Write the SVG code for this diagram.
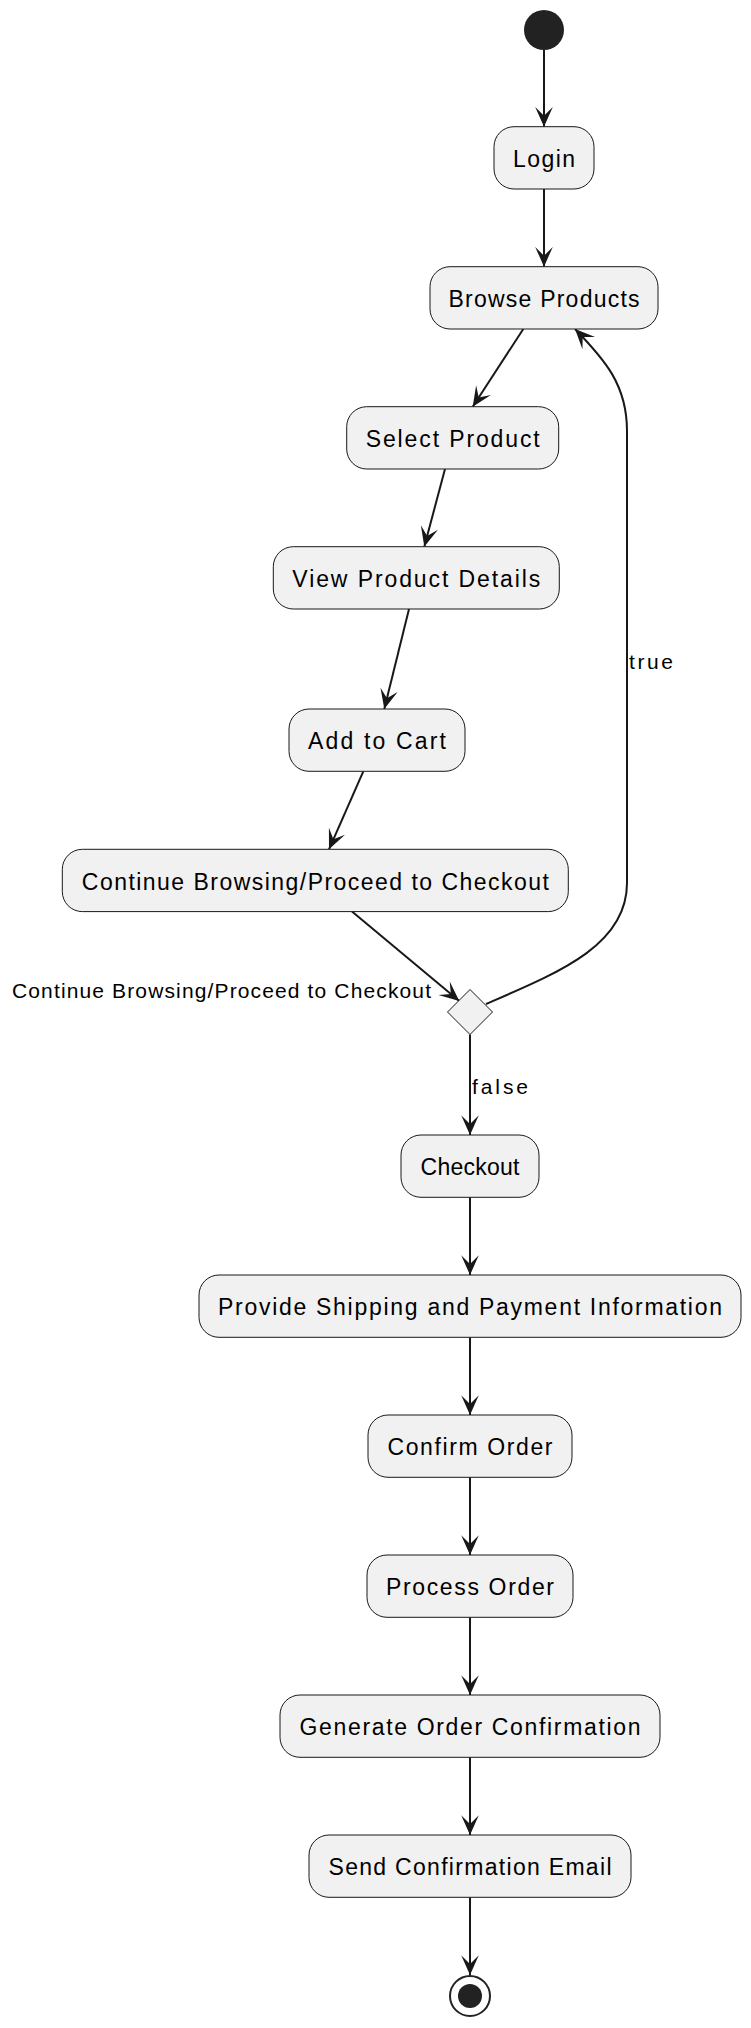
<svg xmlns="http://www.w3.org/2000/svg" width="751" height="2028" viewBox="0 0 751 2028">
<style>
.box{fill:#F1F1F1;stroke:#181818;stroke-width:1}
.t{font-family:"Liberation Sans",Arial,sans-serif;font-size:23px;fill:#000;text-anchor:middle}
.lbl{font-family:"Liberation Sans",Arial,sans-serif;font-size:21px;fill:#000}
.ln{fill:none;stroke:#181818;stroke-width:2;marker-end:url(#arr)}
</style>
<defs>
<marker id="arr" markerUnits="userSpaceOnUse" markerWidth="22" markerHeight="20" viewBox="-19 -9 20 18" refX="0" refY="0" orient="auto" overflow="visible">
<path d="M0,0 L-18,-8 L-10,0 L-18,8 Z" fill="#181818"/>
</marker>
</defs>
<rect width="751" height="2028" fill="#FFFFFF"/>
<g id="connectors">
<line class="ln" x1="544" y1="50" x2="544" y2="126.7"/>
<line class="ln" x1="544" y1="189" x2="544" y2="266.7"/>
<line class="ln" x1="523.3" y1="329" x2="472.7" y2="406.7"/>
<line class="ln" x1="445" y1="469" x2="424.3" y2="546.7"/>
<line class="ln" x1="409" y1="609" x2="384.3" y2="709"/>
<line class="ln" x1="363.3" y1="771.3" x2="329" y2="849.3"/>
<line class="ln" x1="352" y1="911.6" x2="459.3" y2="1001"/>
<line class="ln" x1="470" y1="1034.5" x2="470" y2="1135"/>
<line class="ln" x1="470" y1="1197.3" x2="470" y2="1275"/>
<line class="ln" x1="470" y1="1337.3" x2="470" y2="1415"/>
<line class="ln" x1="470" y1="1477.3" x2="470" y2="1555"/>
<line class="ln" x1="470" y1="1617.3" x2="470" y2="1695"/>
<line class="ln" x1="470" y1="1757.3" x2="470" y2="1835"/>
<line class="ln" x1="470" y1="1897.3" x2="470" y2="1975"/>
<path class="ln" d="M486,1004 C560,972 627,945 627,883 L627,431 C627,385 605,360 575,329"/>
<text class="lbl" x="629" y="669" textLength="44" lengthAdjust="spacing">true</text>
<text class="lbl" x="472" y="1094" textLength="56" lengthAdjust="spacing">false</text>
<text class="lbl" x="12" y="997.5" textLength="419" lengthAdjust="spacing">Continue Browsing/Proceed to Checkout</text>
</g>
<g id="start"><circle cx="544" cy="30" r="20" fill="#222222"/></g>
<g id="login"><rect class="box" x="494" y="126.7" width="100" height="62.3" rx="20"/><text class="t" x="544" y="166.7" textLength="62" lengthAdjust="spacing">Login</text></g>
<g id="browse"><rect class="box" x="430" y="266.7" width="228" height="62.3" rx="20"/><text class="t" x="544" y="306.7" textLength="191" lengthAdjust="spacing">Browse Products</text></g>
<g id="select"><rect class="box" x="346.7" y="406.7" width="212" height="62.3" rx="20"/><text class="t" x="452.7" y="446.7" textLength="174" lengthAdjust="spacing">Select Product</text></g>
<g id="view"><rect class="box" x="273.3" y="546.7" width="286" height="62.3" rx="20"/><text class="t" x="416.3" y="586.7" textLength="248" lengthAdjust="spacing">View Product Details</text></g>
<g id="add"><rect class="box" x="289" y="709" width="176" height="62.3" rx="20"/><text class="t" x="377" y="749" textLength="138" lengthAdjust="spacing">Add to Cart</text></g>
<g id="continue"><rect class="box" x="62.3" y="849.3" width="506" height="62.3" rx="20"/><text class="t" x="315.3" y="889.5" textLength="467" lengthAdjust="spacing">Continue Browsing/Proceed to Checkout</text></g>
<g id="decision"><polygon class="box" points="470,989.5 492.5,1012 470,1034.5 447.5,1012"/></g>
<g id="checkout"><rect class="box" x="401" y="1135" width="138" height="62.3" rx="20"/><text class="t" x="470" y="1175" textLength="99" lengthAdjust="spacing">Checkout</text></g>
<g id="provide"><rect class="box" x="199" y="1275" width="542" height="62.3" rx="20"/><text class="t" x="470" y="1315" textLength="504" lengthAdjust="spacing">Provide Shipping and Payment Information</text></g>
<g id="confirm"><rect class="box" x="368" y="1415" width="204" height="62.3" rx="20"/><text class="t" x="470" y="1455" textLength="165" lengthAdjust="spacing">Confirm Order</text></g>
<g id="process"><rect class="box" x="367" y="1555" width="206" height="62.3" rx="20"/><text class="t" x="470" y="1595" textLength="168" lengthAdjust="spacing">Process Order</text></g>
<g id="generate"><rect class="box" x="280" y="1695" width="380" height="62.3" rx="20"/><text class="t" x="470" y="1735" textLength="341" lengthAdjust="spacing">Generate Order Confirmation</text></g>
<g id="send"><rect class="box" x="309" y="1835" width="322" height="62.3" rx="20"/><text class="t" x="470" y="1875" textLength="283" lengthAdjust="spacing">Send Confirmation Email</text></g>
<g id="end"><circle cx="470" cy="1996" r="20" fill="#FFFFFF" stroke="#222222" stroke-width="2"/><circle cx="470" cy="1996" r="12" fill="#222222"/></g>
</svg>
